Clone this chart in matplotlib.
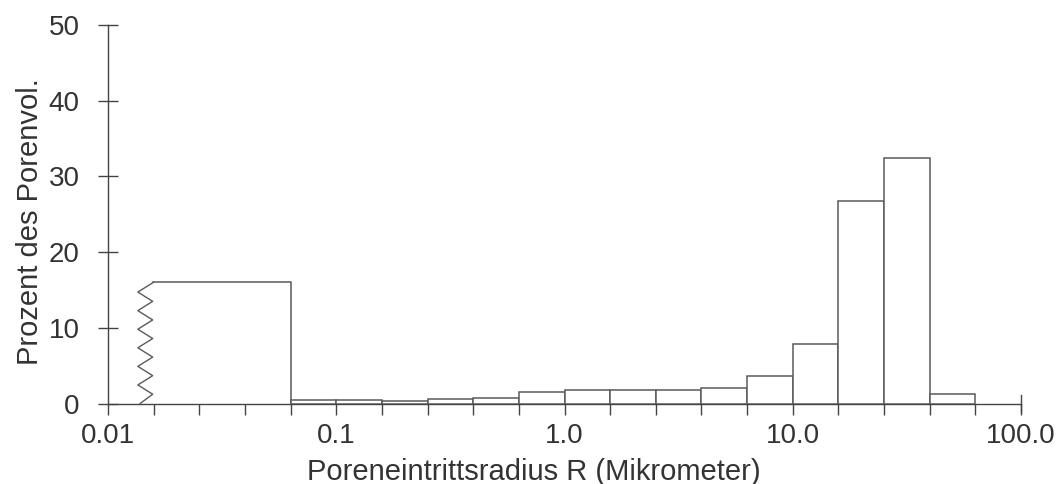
import numpy as np
import matplotlib
matplotlib.use("Agg")
import matplotlib.pyplot as plt

# ---- data ----
bin_edges = [0.0158, 0.0631, 0.1, 0.158, 0.251, 0.398, 0.631, 1.0, 1.585,
             2.512, 3.981, 6.31, 10.0, 15.85, 25.12, 39.81, 63.1]
percent = [16.0, 0.4, 0.5, 0.3, 0.65, 0.75, 1.5, 1.8, 1.75,
           1.75, 2.05, 3.7, 7.9, 26.7, 32.4, 1.2]
x_ticks = [0.01, 0.1, 1.0, 10.0, 100.0]
x_tick_labels = ["0.01", "0.1", "1.0", "10.0", "100.0"]
minor_exponents = [-1.8, -1.6, -1.4, -1.2, -0.8, -0.6, -0.4, -0.2,
                   0.2, 0.4, 0.6, 0.8, 1.2, 1.4, 1.6, 1.8]
y_ticks = [0, 10, 20, 30, 40, 50]
x_label = "Poreneintrittsradius R (Mikrometer)"
y_label = "Prozent des Porenvol."

plt.rcParams['font.family'] = ['Liberation Sans', 'DejaVu Sans']
text_color = '#333333'
axis_color = '#444444'
bar_color = '#5a5a5a'

fig = plt.figure(figsize=(10.56, 4.84), dpi=100)
ax = fig.add_axes([0.1023, 0.1663, 0.8646, 0.782])

edges = np.array(bin_edges)
lefts = edges[:-1]
widths = edges[1:] - edges[:-1]

# first bar drawn without its left side (break symbol instead)
for i, (l, w, h) in enumerate(zip(lefts, widths, percent)):
    if i == 0:
        ax.plot([l, l + w, l + w], [h, h, 0], color=bar_color, lw=1.1,
                solid_joinstyle='miter', zorder=3)
    else:
        ax.bar(l, h, width=w, align='edge', facecolor='white',
               edgecolor=bar_color, linewidth=1.1, zorder=3)

# zigzag break symbol on the left of the first bar
l0, h0 = lefts[0], percent[0]
x_left = l0 / 10 ** 0.068
x_right = l0 / 10 ** 0.003
n_cyc = 6
left_y = np.linspace(h0 * 0.92, 0, n_cyc + 1)
zx = [l0]
zy = [h0]
for k in range(n_cyc + 1):
    zx.append(x_left if k < n_cyc else x_left * 10 ** 0.01)
    zy.append(left_y[k])
    if k < n_cyc:
        zx.append(x_right)
        zy.append((left_y[k] + left_y[k + 1]) / 2)
ax.plot(zx, zy, color=bar_color, lw=1.0, zorder=3)

ax.set_xscale('log')
ax.set_xlim(0.01, 100)
ax.set_ylim(0, 50)

ax.set_xticks(x_ticks)
ax.set_xticklabels(x_tick_labels)
ax.set_xticks([10 ** e for e in minor_exponents], minor=True)
ax.xaxis.set_minor_formatter(matplotlib.ticker.NullFormatter())
ax.set_yticks(y_ticks)

ax.tick_params(axis='x', which='both', direction='out', length=8, width=1.0,
               color=axis_color, labelsize=20, labelcolor=text_color, pad=6)
ax.tick_params(axis='y', which='major', direction='inout', length=15, width=1.0,
               color=axis_color, labelsize=20, labelcolor=text_color, pad=13)

# end tick at 100 crosses the axis
ax.plot([100, 100], [-1.1, 1.1], color=axis_color, lw=1.0, clip_on=False, zorder=4)

for s in ['top', 'right']:
    ax.spines[s].set_visible(False)
for s in ['left', 'bottom']:
    ax.spines[s].set_color(axis_color)
    ax.spines[s].set_linewidth(1.0)

ax.set_xlabel(x_label, fontsize=21, color=text_color)
ax.xaxis.label.set_va('baseline')
ax.xaxis.set_label_coords(0.4666, -0.202)
ax.set_ylabel(y_label, fontsize=21, color=text_color)
ax.yaxis.label.set_va('center')
ax.yaxis.set_label_coords(-0.086, 0.4795)
ax.patch.set_alpha(0)

fig.savefig("out.png", dpi=100, facecolor='white')
